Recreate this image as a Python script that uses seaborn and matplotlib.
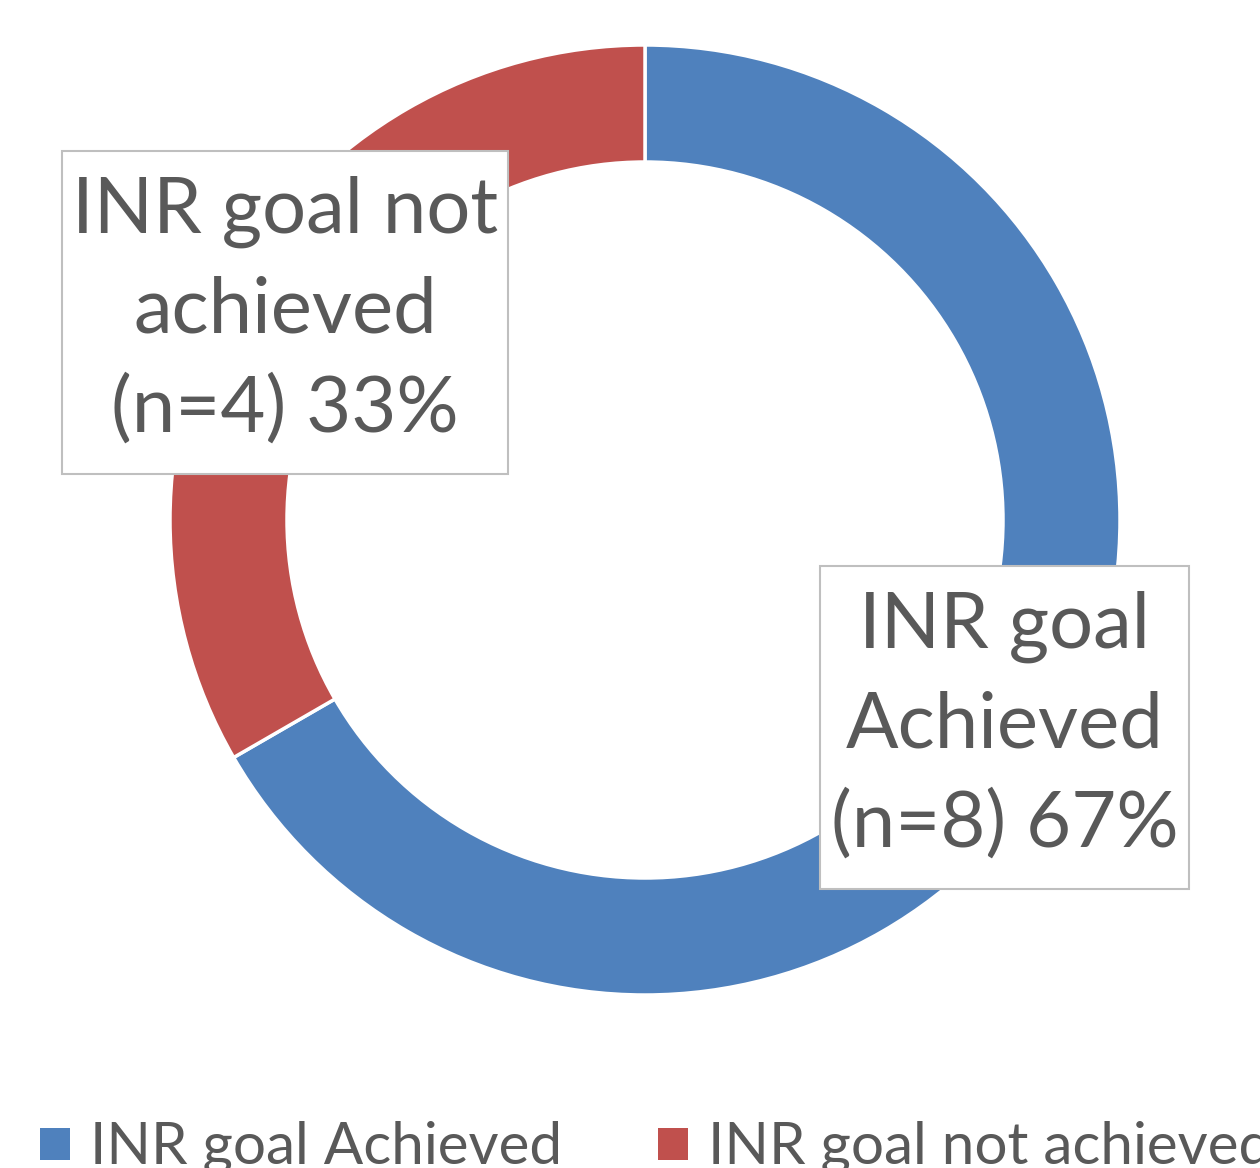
import matplotlib
matplotlib.use("Agg")
import matplotlib.pyplot as plt
import seaborn as sns
from matplotlib.patches import Rectangle

# ---- data ----
categories = ["INR goal Achieved", "INR goal not achieved"]
counts = [8, 4]
percents = [67, 33]
label_texts = ["INR goal\nAchieved\n(n=8) 67%", "INR goal not\nachieved\n(n=4) 33%"]
colors = ["#4F81BD", "#C0504D"]

sns.set_theme(style="white")
plt.rcParams['font.family'] = ['Lato', 'DejaVu Sans']

W, H = 1260, 1168
fig = plt.figure(figsize=(W / 100, H / 100), dpi=100)
fig.patch.set_facecolor("white")

cx, cy, R = 645, 520, 475
ax = fig.add_axes([(cx - R) / W, (H - cy - R) / H, 2 * R / W, 2 * R / H])
ax.pie(counts, colors=colors, startangle=90, counterclock=False, radius=1,
       wedgeprops=dict(width=117 / 475, edgecolor="white", linewidth=2.5))
ax.set_xlim(-1, 1)
ax.set_ylim(-1, 1)
ax.set_aspect("equal")
ax.axis("off")

txt_color = "#595959"

def box(x0, y0, x1, y1, text, fs):
    fig.patches.append(Rectangle((x0 / W, 1 - y1 / H), (x1 - x0) / W, (y1 - y0) / H,
                                 transform=fig.transFigure, facecolor="white",
                                 edgecolor="#BFBFBF", linewidth=1.5, zorder=5))
    fig.text((x0 + x1) / 2 / W, 1 - ((y0 + y1) / 2 - 2) / H, text, ha="center", va="center",
             fontsize=fs, color=txt_color, linespacing=1.48, zorder=6)

box(62, 151, 508, 474, label_texts[1], 56)
box(820, 566, 1189, 889, label_texts[0], 56)

# legend
leg = [(40, 90, categories[0], colors[0]), (658, 708, categories[1], colors[1])]
for sx, tx, lab, col in leg:
    fig.patches.append(Rectangle((sx / W, 1 - 1160 / H), 30 / W, 32 / H,
                                 transform=fig.transFigure, facecolor=col,
                                 edgecolor="none"))
    fig.text(tx / W, 1 - 1164 / H, lab, ha="left", va="baseline",
             fontsize=42, color=txt_color)

fig.savefig("out.png", dpi=100, facecolor="white")
